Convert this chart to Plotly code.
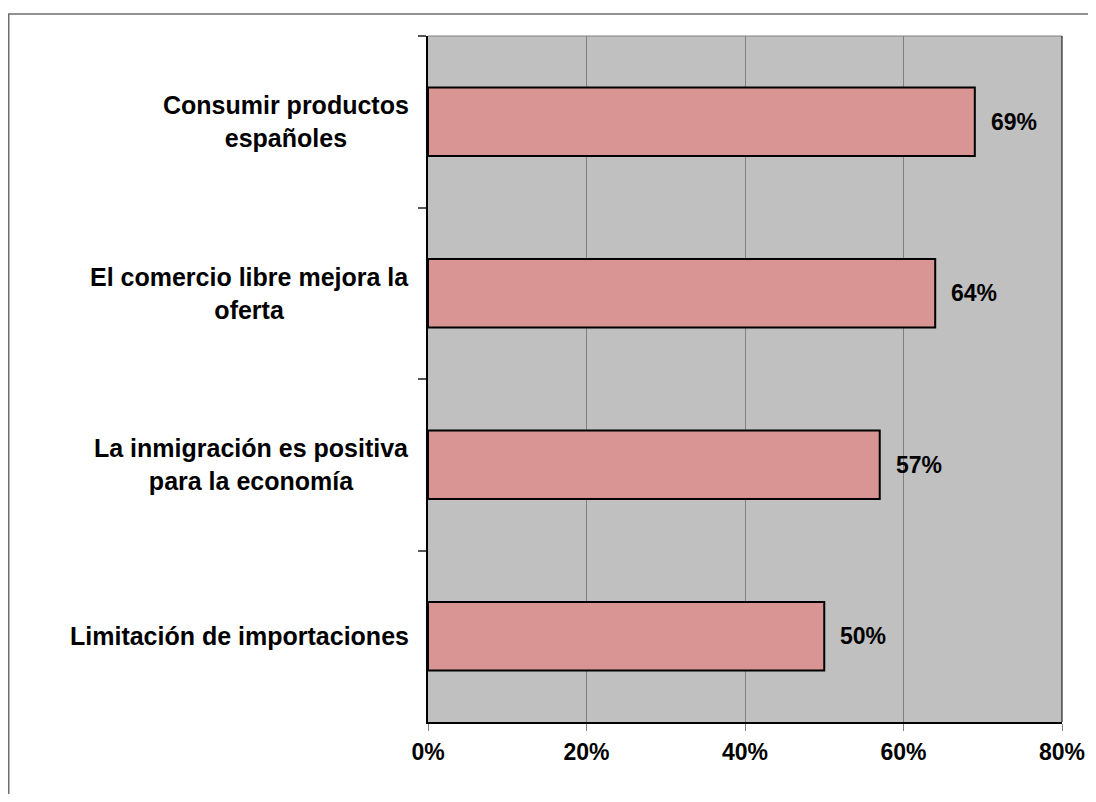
import plotly.graph_objects as go

categories = [
    "Consumir productos<br>españoles",
    "El comercio libre mejora la<br>oferta",
    "La inmigración es positiva<br>para la economía",
    "Limitación de importaciones",
]
values = [0.69, 0.64, 0.57, 0.50]
value_labels = ["69%", "64%", "57%", "50%"]
x_tickvals = [0, 0.2, 0.4, 0.6, 0.8]
x_ticktext = ["0%", "20%", "40%", "60%", "80%"]

# page has an 8px body margin
W, H = 1080, 786
ml, mr, mt, mb = 420, 26, 28, 72
pw, ph = W - ml - mr, H - mt - mb

FONT = "Liberation Sans, Arial, sans-serif"

fig = go.Figure()
fig.add_trace(go.Bar(
    x=values, y=categories, orientation="h", width=0.4,
    marker=dict(color="#D99594", line=dict(color="#000000", width=2)),
    hoverinfo="skip",
))

annotations = []
for c, v, t in zip(categories, values, value_labels):
    annotations.append(dict(
        x=v, y=c, xref="x", yref="y", text="<b>%s</b>" % t, showarrow=False,
        xanchor="left", yanchor="middle", xshift=14,
        font=dict(family=FONT, size=23, color="#000000"),
    ))
    annotations.append(dict(
        x=-17 / pw, y=c, xref="paper", yref="y", text="<b>%s</b>" % c, showarrow=False,
        xanchor="right", yanchor="middle", align="center",
        font=dict(family=FONT, size=25, color="#000000"),
    ))

shapes = [
    # outer chart border (left and top visible)
    dict(type="rect", xref="paper", yref="paper",
         x0=(0.75 - ml) / pw, x1=(W + 20 - ml) / pw,
         y0=-(H + 20 - mt - ph) / ph, y1=1 + (mt - 6) / ph,
         line=dict(color="#6E6E6E", width=1.5), fillcolor="rgba(0,0,0,0)", layer="below"),
    # top plot edge
    dict(type="line", xref="paper", yref="paper", x0=0, x1=1, y0=1, y1=1,
         line=dict(color="#808080", width=1)),
    # right plot edge
    dict(type="line", xref="paper", yref="paper", x0=1, x1=1, y0=0, y1=1,
         line=dict(color="#000000", width=1)),
]

fig.update_layout(
    width=W, height=H,
    margin=dict(l=ml, r=mr, t=mt, b=mb, pad=0, autoexpand=False),
    paper_bgcolor="#FFFFFF", plot_bgcolor="#C0C0C0",
    showlegend=False, bargap=0.6,
    annotations=annotations, shapes=shapes,
    font=dict(family=FONT, color="#000000"),
)
fig.update_xaxes(
    range=[0, 0.8], tickvals=x_tickvals, ticktext=["<b>%s</b>" % t for t in x_ticktext],
    showgrid=True, gridcolor="#808080", gridwidth=1,
    showline=True, linecolor="#000000", linewidth=1.5,
    ticks="outside", ticklen=7, tickcolor="#808080", tickwidth=1,
    tickfont=dict(family=FONT, size=23, color="#000000"),
    ticklabelstandoff=2, zeroline=False, fixedrange=True, automargin=False,
)
fig.update_yaxes(
    type="category", categoryorder="array", categoryarray=categories,
    range=[3.5, -0.5], tickson="boundaries",
    showgrid=False, showticklabels=False,
    showline=True, linecolor="#000000", linewidth=1.5,
    ticks="outside", ticklen=8, tickcolor="#555555", tickwidth=1.5,
    zeroline=False, fixedrange=True, automargin=False,
)

fig.write_html("out.html")
